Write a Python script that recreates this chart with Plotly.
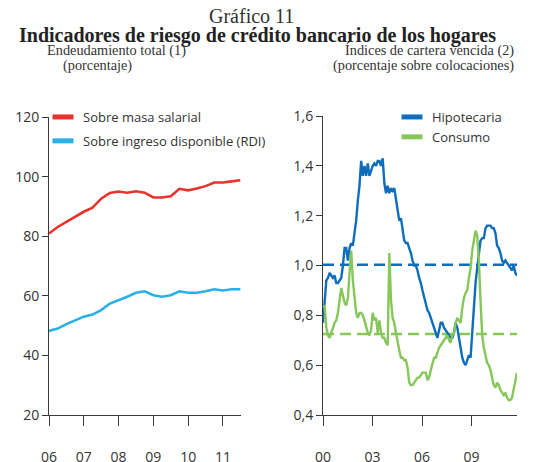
import numpy as np
import plotly.graph_objects as go

# ---------------- Data ----------------
# Left panel: quarterly, 2006Q1 .. 2011Q3
left_years = [2006 + 0.25 * i for i in range(23)]
masa_salarial = [80.9, 83.1, 84.8, 86.5, 88.2, 89.6, 92.6, 94.5, 95.0, 94.6, 95.1, 94.6,
                 93.0, 93.0, 93.4, 95.9, 95.4, 96.0, 96.8, 98.0, 98.0, 98.4, 98.8]
ingreso_disp = [48.2, 49.0, 50.5, 51.8, 53.0, 53.7, 55.2, 57.4, 58.5, 59.7, 61.0, 61.5,
                60.2, 59.7, 60.2, 61.5, 61.0, 61.0, 61.5, 62.2, 61.8, 62.2, 62.2]
left_ticks = [2006, 2007, 2008, 2009, 2010, 2011]
left_ticktext = ["06", "07", "08", "09", "10", "11"]

# Right panel: roughly monthly readings, 2000 .. 2011.75
hipotecaria = [0.77, 0.87, 0.94, 0.95, 0.97, 0.96, 0.95, 0.96, 0.93, 0.93, 0.94, 0.95,
               1.00, 1.07, 1.07, 1.02, 1.07, 1.09, 1.08, 1.13, 1.18, 1.26, 1.32, 1.42,
               1.36, 1.40, 1.36, 1.41, 1.36, 1.38, 1.40, 1.41, 1.40, 1.42, 1.42, 1.40,
               1.43, 1.33, 1.29, 1.32, 1.29, 1.31, 1.30, 1.31, 1.26, 1.21, 1.18, 1.19,
               1.15, 1.10, 1.09, 1.09, 1.07, 1.05, 1.02, 1.00, 1.00, 0.98, 0.95, 0.93,
               0.90, 0.87, 0.85, 0.82, 0.81, 0.79, 0.77, 0.75, 0.73, 0.71, 0.74, 0.77,
               0.77, 0.75, 0.74, 0.73, 0.72, 0.71, 0.71, 0.73, 0.77, 0.75, 0.71, 0.67,
               0.63, 0.61, 0.60, 0.62, 0.64, 0.63, 0.74, 0.86, 0.93, 0.99, 1.05, 1.10,
               1.11, 1.11, 1.15, 1.16, 1.16, 1.16, 1.15, 1.15, 1.13, 1.08, 1.07, 1.05,
               1.02, 1.01, 1.02, 1.01, 1.00, 0.99, 0.98, 1.00, 0.97, 0.96]
consumo = [0.83, 0.84, 0.75, 0.72, 0.71, 0.73, 0.75, 0.77, 0.78, 0.81, 0.86, 0.91,
           0.88, 0.85, 0.84, 0.87, 0.97, 1.06, 0.94, 0.87, 0.81, 0.79, 0.81, 0.81,
           0.80, 0.78, 0.75, 0.73, 0.72, 0.74, 0.81, 0.78, 0.79, 0.73, 0.78, 0.73,
           0.71, 0.71, 0.69, 0.68, 1.05, 0.86, 0.79, 0.77, 0.73, 0.69, 0.66, 0.63,
           0.63, 0.62, 0.62, 0.59, 0.53, 0.52, 0.52, 0.53, 0.54, 0.55, 0.55, 0.56,
           0.57, 0.57, 0.57, 0.54, 0.55, 0.58, 0.61, 0.63, 0.63, 0.65, 0.67, 0.68,
           0.69, 0.70, 0.71, 0.72, 0.70, 0.69, 0.72, 0.73, 0.77, 0.79, 0.78, 0.77,
           0.83, 0.87, 0.89, 0.90, 0.95, 0.99, 1.06, 1.11, 1.14, 1.12, 1.02, 0.86,
           0.72, 0.67, 0.64, 0.61, 0.60, 0.58, 0.55, 0.52, 0.51, 0.53, 0.52, 0.50,
           0.49, 0.48, 0.49, 0.47, 0.46, 0.46, 0.47, 0.50, 0.53, 0.57]
right_start, right_end = 2000, 2011.75
hipotecaria_prom = 1.003
consumo_prom = 0.725
right_ticks = [2000, 2003, 2006, 2009]
right_ticktext = ["00", "03", "06", "09"]

right_years = np.linspace(right_start, right_end, len(hipotecaria))

# ---------------- Style ----------------
RED = "#E8332D"
CYAN = "#27B1E6"
BLUE = "#0F6EBC"
GREEN = "#86C75A"
AX = "#3a3a3a"
TXT = "#333333"
SANS = "Open Sans"
SERIF = "Liberation Serif"

fig = go.Figure()

# left panel lines
fig.add_trace(go.Scatter(x=left_years, y=masa_salarial, mode="lines",
                         line=dict(color=RED, width=2.6), showlegend=False,
                         xaxis="x", yaxis="y"))
fig.add_trace(go.Scatter(x=left_years, y=ingreso_disp, mode="lines",
                         line=dict(color=CYAN, width=2.6), showlegend=False,
                         xaxis="x", yaxis="y"))

# right panel averages (dashed) and lines
fig.add_trace(go.Scatter(x=[right_start, right_end], y=[consumo_prom, consumo_prom],
                         mode="lines", line=dict(color=GREEN, width=2.4, dash="11px,6px"),
                         showlegend=False, xaxis="x2", yaxis="y2"))
fig.add_trace(go.Scatter(x=[right_start, right_end], y=[hipotecaria_prom, hipotecaria_prom],
                         mode="lines", line=dict(color=BLUE, width=2.4, dash="11px,6px"),
                         showlegend=False, xaxis="x2", yaxis="y2"))
fig.add_trace(go.Scatter(x=right_years, y=hipotecaria, mode="lines",
                         line=dict(color=BLUE, width=2.4), showlegend=False,
                         xaxis="x2", yaxis="y2"))
fig.add_trace(go.Scatter(x=right_years, y=consumo, mode="lines",
                         line=dict(color=GREEN, width=2.4), showlegend=False,
                         xaxis="x2", yaxis="y2"))

# legend entries (short thick swatches)
def legend_entry(name, color, legend, group):
    return go.Scatter(x=[None], y=[None], mode="markers", name=name,
                      marker=dict(symbol="line-ew", size=15, color=color,
                                  line=dict(width=5, color=color)),
                      legend=legend, legendgroup=group, showlegend=True,
                      xaxis="x", yaxis="y")

fig.add_trace(legend_entry("Sobre masa salarial", RED, "legend", "a"))
fig.add_trace(legend_entry("Sobre ingreso disponible (RDI)", CYAN, "legend", "b"))
fig.add_trace(legend_entry("Hipotecaria", BLUE, "legend2", "c"))
fig.add_trace(legend_entry("Consumo", GREEN, "legend2", "d"))

W, H = 545, 462
def px(x):
    return x / W
def py(y):
    return 1 - y / H

axis_common = dict(showline=True, linecolor=AX, linewidth=1, showgrid=False,
                   zeroline=False, ticks="outside", tickcolor=AX, tickwidth=1,
                   tickfont=dict(family=SANS, size=14, color=TXT))

def ann(text, x, y, size, color=TXT):
    return dict(text=text, x=px(x), y=py(y), xref="paper", yref="paper",
                xanchor="center", yanchor="middle", showarrow=False,
                font=dict(family=SERIF, size=size, color=color))

fig.update_layout(
    width=W, height=H, margin=dict(l=0, r=0, t=0, b=0, autoexpand=False),
    paper_bgcolor="white", plot_bgcolor="white",
    separators=",.",
    xaxis=dict(domain=[px(49), px(241)], range=[2006, 2011.52], tickvals=left_ticks,
               ticktext=left_ticktext, ticklen=10, ticklabelstandoff=19,
               anchor="y", **axis_common),
    yaxis=dict(domain=[py(415), py(117)], range=[20, 120], tickvals=[20, 40, 60, 80, 100, 120],
               ticklen=6, anchor="x", **axis_common),
    xaxis2=dict(domain=[px(323), px(517)], range=[right_start, right_end],
                tickvals=right_ticks, ticktext=right_ticktext, ticklen=10,
                ticklabelstandoff=19, anchor="y2", **axis_common),
    yaxis2=dict(domain=[py(415), py(116)], range=[0.4, 1.6],
                tickvals=[0.4, 0.6, 0.8, 1.0, 1.2, 1.4, 1.6], tickformat=".1f",
                ticklen=6, anchor="x2", **axis_common),
    legend=dict(x=px(43), y=py(102), xanchor="left", yanchor="top",
                bgcolor="rgba(0,0,0,0)", font=dict(family=SANS, size=13, color=TXT),
                tracegroupgap=4, itemclick=False),
    legend2=dict(x=px(392), y=py(102), xanchor="left", yanchor="top",
                 bgcolor="rgba(0,0,0,0)", font=dict(family=SANS, size=13, color=TXT),
                 tracegroupgap=0, itemclick=False),
    annotations=[
        ann("Gráfico 11", 251, 16, 20),
        ann("<b>Indicadores de riesgo de crédito bancario de los hogares</b>", 257, 35, 20,
            "#222222"),
        ann("Endeudamiento total (1)", 116, 50, 14.3),
        ann("(porcentaje)", 97, 66, 14.3),
        ann("Índices de cartera vencida (2)", 429, 50, 14.3),
        ann("(porcentaje sobre colocaciones)", 423, 66, 14.3),
    ],
)

fig.write_html("out.html", config={"displayModeBar": False},
               post_script="document.body.style.margin='0';")
